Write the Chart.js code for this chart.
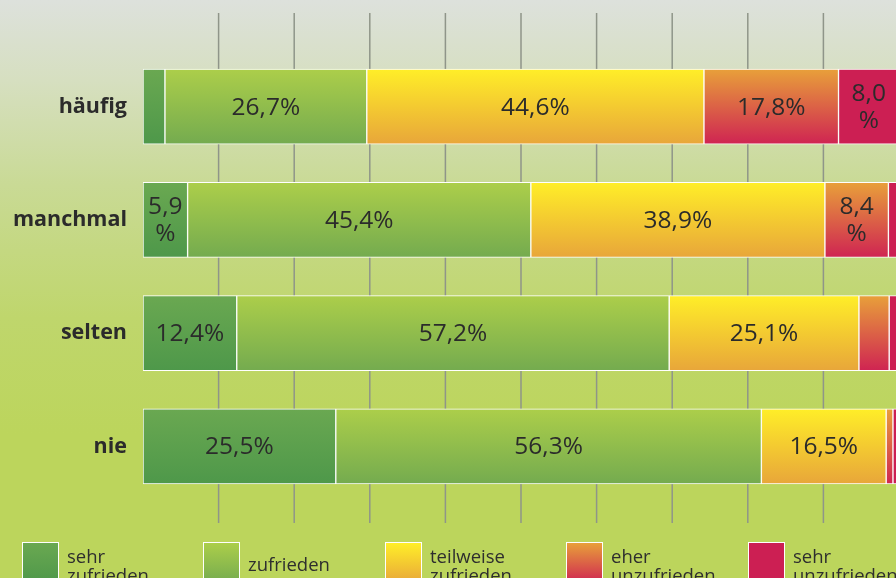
<!DOCTYPE html>
<html>
<head>
<meta charset="utf-8">
<script src="https://cdn.jsdelivr.net/npm/chart.js@4"></script>
<style>
  html, body { margin: 0; padding: 0; width: 896px; height: 578px; overflow: hidden; }
  body {
    background: linear-gradient(to bottom, #dde1dc 0%, #d6dfc0 14%, #c9da95 32%, #bfd66c 55%, #bcd55c 75%, #bcd55c 100%);
    font-family: "Open Sans", sans-serif;
    color: #2e2e2e;
  }
  #wrap { position: absolute; left: 0; top: 0; width: 900px; height: 578px; }
  .leg { position: absolute; top: 542px; font-size: 18.5px; line-height: 19px; }
  .leg .box { position: absolute; left: 0; top: 0; width: 35px; height: 40px; border: 1px solid #fff; }
  .leg .txt { position: absolute; left: 45px; top: 4px; white-space: nowrap; }
</style>
</head>
<body>
<div id="wrap"><canvas id="myChart" width="900" height="578"></canvas></div>
<div id="legend"></div>
<script>
var categories = ['häufig', 'manchmal', 'selten', 'nie'];
var seriesNames = [['sehr', 'zufrieden'], ['zufrieden'], ['teilweise', 'zufrieden'], ['eher', 'unzufrieden'], ['sehr', 'unzufrieden']];
var sehrZufrieden = [2.9, 5.9, 12.4, 25.5];
var zufrieden = [26.7, 45.4, 57.2, 56.3];
var teilweise = [44.6, 38.9, 25.1, 16.5];
var eherUnzufrieden = [17.8, 8.4, 4.0, 0.9];
var sehrUnzufrieden = [8.0, 1.4, 1.3, 0.8];
var gridTicks = [10, 20, 30, 40, 50, 60, 70, 80, 90, 100];

// top / bottom colour of each gradient
var colors = [
  ['#6aa851', '#4e984a'],
  ['#acce4a', '#74ab4f'],
  ['#ffee28', '#e8a63a'],
  ['#e8a03a', '#cf2452'],
  ['#cc1f53', '#cc1f53']
];
var barH = 75;

function grad(i) {
  return function(c) {
    var chart = c.chart;
    if (!chart.chartArea) return colors[i][0];
    var cy = chart.scales.y.getPixelForValue(c.dataIndex);
    var g = chart.ctx.createLinearGradient(0, cy - barH / 2, 0, cy + barH / 2);
    g.addColorStop(0, colors[i][0]);
    g.addColorStop(1, colors[i][1]);
    return g;
  };
}

var allData = [sehrZufrieden, zufrieden, teilweise, eherUnzufrieden, sehrUnzufrieden];
var datasets = allData.map(function(d, i) {
  return {
    label: seriesNames[i].join(' '),
    data: d,
    backgroundColor: grad(i),
    borderColor: '#ffffff',
    borderWidth: 1,
    borderSkipped: false,
    barThickness: barH
  };
});

var gridPlugin = {
  id: 'gridLines',
  beforeDatasetsDraw: function(chart) {
    var c = chart.ctx, x = chart.scales.x;
    c.save();
    c.strokeStyle = '#8f9589';
    c.lineWidth = 1.5;
    gridTicks.forEach(function(v) {
      var px = x.getPixelForValue(v);
      c.beginPath();
      c.moveTo(px, 13);
      c.lineTo(px, 523);
      c.stroke();
    });
    c.restore();
  }
};

var labelPlugin = {
  id: 'valueLabels',
  afterDatasetsDraw: function(chart) {
    var c = chart.ctx;
    c.save();
    c.fillStyle = '#2b2b2b';
    c.font = '500 24.5px "Open Sans"';
    c.textAlign = 'center';
    c.textBaseline = 'middle';
    chart.data.datasets.forEach(function(ds, di) {
      var meta = chart.getDatasetMeta(di);
      meta.data.forEach(function(bar, i) {
        var v = ds.data[i];
        if (v < 5) return;
        var txt = v.toFixed(1).replace('.', ',');
        var left = bar.base, right = bar.x;
        var cx = (left + right) / 2, cy = bar.y;
        if (right - left < 80) {
          c.fillText(txt, cx, cy - 13);
          c.fillText('%', cx, cy + 14);
        } else {
          c.fillText(txt + '%', cx, cy + 1);
        }
      });
    });
    c.restore();
  }
};

var ctx = document.getElementById('myChart').getContext('2d');
var myChart = new Chart(ctx, {
  type: 'bar',
  data: { labels: categories, datasets: datasets },
  options: {
    responsive: false,
    animation: false,
    indexAxis: 'y',
    events: [],
    layout: { padding: { top: 50, bottom: 75, left: 0, right: 1 } },
    plugins: { legend: { display: false }, tooltip: { enabled: false } },
    scales: {
      x: { stacked: true, min: 0, max: 100, display: false },
      y: {
        stacked: true,
        grid: { display: false },
        border: { display: false },
        ticks: { color: '#2b2b2b', font: { family: 'Open Sans', size: 21.5, weight: 'bold' }, padding: 8 },
        afterFit: function(s) { s.width = 143; }
      }
    }
  },
  plugins: [gridPlugin, labelPlugin]
});

// legend
var legendX = [22, 203, 385, 566, 748];
var legend = document.getElementById('legend');
seriesNames.forEach(function(n, i) {
  var d = document.createElement('div');
  d.className = 'leg';
  d.style.left = legendX[i] + 'px';
  var b = document.createElement('div');
  b.className = 'box';
  b.style.background = 'linear-gradient(to bottom, ' + colors[i][0] + ', ' + colors[i][1] + ')';
  var t = document.createElement('div');
  t.className = 'txt';
  if (n.length == 1) t.style.top = '12px';
  t.innerHTML = n.join('<br>');
  d.appendChild(b);
  d.appendChild(t);
  legend.appendChild(d);
});
</script>
</body>
</html>
